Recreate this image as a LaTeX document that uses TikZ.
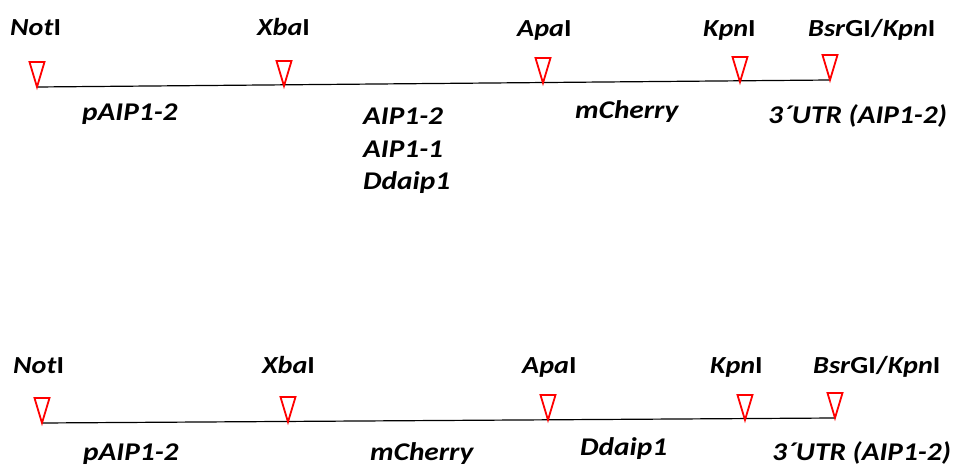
\documentclass[tikz,border=0pt]{standalone}
\usepackage{fontspec}
\setmainfont{Carlito}[FakeStretch=1.15]
\usetikzlibrary{positioning}

\begin{document}
\begin{tikzpicture}[
    x=1pt, y=-1pt,
    enz/.style={font=\fontsize{24.5}{27}\selectfont\bfseries, anchor=base west, inner sep=0},
    gene/.style={font=\fontsize{25.5}{33}\selectfont\bfseries\itshape, anchor=base west, inner sep=0, align=left},
    site/.style={draw=red, line width=1.8pt, line join=miter},
    dna/.style={draw=black, line width=1.2pt}
]
  \useasboundingbox (0,0) rectangle (956,465);

  % Sites Row 1
  \coordinate (aNot) at (37,87);
  \coordinate (aXba) at (284,86);
  \coordinate (aApa) at (543,83);
  \coordinate (aKpn) at (740,82);
  \coordinate (aBsr) at (830,80);

  % Sites Row 2
  \coordinate (bNot) at (42,423);
  \coordinate (bXba) at (288,422);
  \coordinate (bApa) at (548,420);
  \coordinate (bKpn) at (745,420);
  \coordinate (bBsr) at (835,418);

  % Backbone
  \draw [dna] (aNot) -- (aBsr);
  \draw [dna] (bNot) -- (bBsr);

  % Triangles
  \foreach \s in {aNot,aXba,aApa,aKpn,aBsr,bNot,bXba,bApa,bKpn,bBsr}
    \draw [site] (\s) -- ++(-7.5,-25) -- ++(15,0) -- cycle;

  % Enzymes Row 1
  \node (eNotA) [enz] at (10,36) {\textit{Not}I};
  \node (eXbaA) [enz] at (257,36) {\textit{Xba}I};
  \node (eApaA) [enz] at (517,37) {\textit{Apa}I};
  \node (eKpnA) [enz] at (703,37) {\textit{Kpn}I};
  \node (eBsrA) [enz] at (808,37) {\textit{Bsr}GI/\textit{Kpn}I};

  % Enzymes Row 2
  \node (eNotB) [enz] at (13,373) {\textit{Not}I};
  \node (eXbaB) [enz] at (262,373) {\textit{Xba}I};
  \node (eApaB) [enz] at (522,373) {\textit{Apa}I};
  \node (eKpnB) [enz] at (710,373) {\textit{Kpn}I};
  \node (eBsrB) [enz] at (813,373) {\textit{Bsr}GI/\textit{Kpn}I};

  % Genes Row 1
  \node (promA) [gene] at (82,121) {pAIP1-2};
  \node (cdsA) [gene] at (363,190) {AIP1-2\\AIP1-1\\Ddaip1};
  \node (tagA) [gene] at (575,119) {mCherry};
  \node (utrA) [gene] at (768,124) {3´UTR (AIP1-2)};

  % Genes Row 2
  \node (promB) [gene] at (83,460) {pAIP1-2};
  \node (tagB) [gene] at (370,460) {mCherry};
  \node (cdsB) [gene] at (580,455) {Ddaip1};
  \node (utrB) [gene] at (772,460) {3´UTR (AIP1-2)};
\end{tikzpicture}
\end{document}
